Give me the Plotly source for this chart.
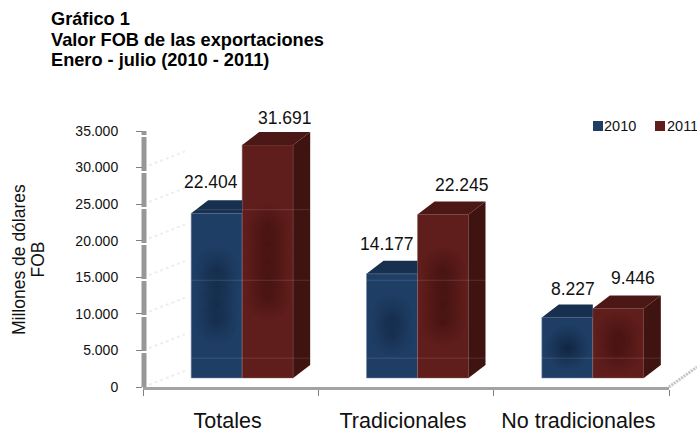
import plotly.graph_objects as go

categories = ["Totales", "Tradicionales", "No tradicionales"]
series_names = ["2010", "2011"]
values_2010 = [22404, 14177, 8227]
values_2011 = [31691, 22245, 9446]
y_ticks = [0, 5000, 10000, 15000, 20000, 25000, 30000, 35000]
y_tick_labels = ["0", "5.000", "10.000", "15.000", "20.000", "25.000", "30.000", "35.000"]
front_lines = [2700, 13300, 22900]

FONT = "Liberation Sans"
W, H = 697, 430
L, R, T, B = 143, 669, 131, 387
PW, PH = R - L, B - T
CAT = PW / 3                      # px per category
YS = 247 / 33605                  # px per unit on front plane
FRONT_BASE = 9                    # px between floor and bar base
SHIFT = 11.5                      # px shift of bars right of category centre
DX, DY = 17, 13                   # px depth of the 3D boxes
BW = 51 / CAT

y2_low = -FRONT_BASE / YS
y2_high = y2_low + PH / YS
x2_range = [-0.5 - SHIFT / CAT, 2.5 - SHIFT / CAT]
dx_u, dy_u = DX / CAT, DY / YS

BLUE, BLUE_TOP, BLUE_DARK = "#1f3e66", "#17304f", "rgba(15,36,62,{a})"
RED, RED_TOP, RED_SIDE, RED_DARK = "#5f1d1b", "#4c1815", "#3e1310", "rgba(58,14,12,{a})"

fig = go.Figure()

# hidden carrier for the category axis
fig.add_trace(go.Scatter(x=categories, y=values_2010, xaxis="x", yaxis="y", mode="markers",
                         marker=dict(opacity=0), showlegend=False, hoverinfo="skip"))

idx = list(range(len(categories)))
fig.add_trace(go.Bar(x=[i - BW / 2 for i in idx], y=values_2010, width=BW, name=series_names[0], xaxis="x2", yaxis="y2",
                     marker=dict(color=BLUE, line=dict(color="rgba(120,140,170,0.55)", width=1)), showlegend=False))
fig.add_trace(go.Bar(x=[i + BW / 2 for i in idx], y=values_2011, width=BW, name=series_names[1], xaxis="x2", yaxis="y2",
                     marker=dict(color=RED, line=dict(color="rgba(150,100,100,0.45)", width=1)), showlegend=False))


def poly(xs, ys, color):
    fig.add_trace(go.Scatter(x=xs, y=ys, xaxis="x2", yaxis="y2", mode="lines", fill="toself", fillcolor=color,
                             line=dict(width=0), showlegend=False, hoverinfo="skip"))


for i, a, b in zip(idx, values_2010, values_2011):
    # blue top face, stops at the red bar
    poly([i - BW, i - BW + dx_u, i, i], [a, a + dy_u, a + dy_u, a], BLUE_TOP)
    # red top and side faces
    poly([i, i + dx_u, i + BW + dx_u, i + BW], [b, b + dy_u, b + dy_u, b], RED_TOP)
    poly([i + BW, i + BW + dx_u, i + BW + dx_u, i + BW], [0, dy_u, b + dy_u, b], RED_SIDE)


def glow(xc, value, dark):
    # soft dark patch in the middle of a front face, longer on taller bars
    h = value * YS
    n = max(1, round(h * 0.4 / 18))
    ys = [value / 2 + (k - (n - 1) / 2) * 18 / YS for k in range(n)]
    fig.add_trace(go.Scatter(x=[xc] * n, y=ys, xaxis="x2", yaxis="y2", mode="markers", showlegend=False, hoverinfo="skip",
                             marker=dict(symbol="square", size=46, color=dark.format(a=0), line=dict(width=0),
                                         gradient=dict(type="radial", color=dark.format(a=0.55 if n > 1 else 0.9)))))


for i, a, b in zip(idx, values_2010, values_2011):
    glow(i - BW / 2, a, BLUE_DARK)
    glow(i + BW / 2, b, RED_DARK)

# faint wall lines running across the boxes
for level in front_lines:
    xs, ys = [], []
    for i, b in zip(idx, values_2011):
        if level < b:
            xs += [i - BW, i + BW + dx_u, None]
            ys += [level, level, None]
    fig.add_trace(go.Scatter(x=xs, y=ys, xaxis="x2", yaxis="y2", mode="lines", showlegend=False, hoverinfo="skip",
                             line=dict(color="rgba(255,255,255,0.13)", width=1)))

# data labels: (x px offset from bar centre, y px offset above bar top)
label_shift = [[(-6, 31), (17, 27)], [(-5, 30), (19, 30)], [(6, 29), (15, 31)]]
for i, a, b in zip(idx, values_2010, values_2011):
    for k, v in enumerate((a, b)):
        sx, sy = label_shift[i][k]
        fig.add_annotation(x=i + (k - 0.5) * BW, y=v, xref="x2", yref="y2", text=f"{v:,}".replace(",", "."),
                           showarrow=False, xshift=sx, yshift=sy, xanchor="center", yanchor="middle",
                           font=dict(family=FONT, size=17.5, color="#111111"))

shapes = []
# left wall
shapes.append(dict(type="line", xref="paper", yref="paper", x0=1 / PW, x1=1 / PW, y0=0, y1=1,
                   line=dict(color="#979797", width=5, dash="34px,2px"), layer="below"))
# faint dotted wall gridlines
for t in y_ticks[:-1]:
    shapes.append(dict(type="line", xref="paper", yref="y", x0=6 / PW, x1=42 / PW, y0=t + 300, y1=t + 300 + 14 / (PH / 35000),
                       line=dict(color="#eeeeee", width=2, dash="dot"), layer="below"))
# floor edge rising to the right
shapes.append(dict(type="line", xref="paper", yref="paper", x0=1.0, x1=1 + 28 / PW, y0=0.0, y1=20 / PH,
                   line=dict(color="#c4c4c4", width=3, dash="2px,1px"), layer="below"))

# legend
for color, sx, tx, name in [(BLUE, 593, 604, series_names[0]), (RED, 655, 667, series_names[1])]:
    shapes.append(dict(type="rect", xref="paper", yref="paper", x0=(sx - L) / PW, x1=(sx + 10 - L) / PW,
                       y0=(B - 131) / PH, y1=(B - 121) / PH, fillcolor=color, line=dict(width=0)))
    fig.add_annotation(xref="paper", yref="paper", x=(tx - L) / PW, y=(B - 126) / PH, text=name, showarrow=False,
                       xanchor="left", yanchor="middle", xshift=-2, font=dict(family=FONT, size=14.5, color="#111111"))

# title
for text, yc in [("Gráfico 1", 19), ("Valor FOB de las exportaciones", 40), ("Enero - julio (2010 - 2011)", 60)]:
    fig.add_annotation(xref="paper", yref="paper", x=(51 - L) / PW, y=(B - yc) / PH, text=f"<b>{text}</b>", showarrow=False,
                       xanchor="left", yanchor="middle", xshift=-2, font=dict(family=FONT, size=18.2, color="#000000"))

# axis title, two tight rotated lines
for text, xc in [("Millones de dólares", 19), ("FOB", 37.5)]:
    fig.add_annotation(xref="paper", yref="paper", x=(xc - L) / PW, y=(B - 260) / PH, text=text, showarrow=False,
                       textangle=-90, xanchor="center", yanchor="middle", font=dict(family=FONT, size=17.5, color="#111111"))

fig.update_layout(
    width=W, height=H, autosize=False, showlegend=False,
    margin=dict(l=L, r=W - R, t=T, b=H - B, pad=0, autoexpand=False),
    paper_bgcolor="white", plot_bgcolor="white", barmode="overlay", shapes=shapes,
    xaxis=dict(type="category", categoryorder="array", categoryarray=categories, range=[-0.5, 2.5], automargin=False,
               tickson="boundaries", ticks="outside", ticklen=6, tickcolor="#808080", tickwidth=1,
               showline=True, linecolor="#a3a3a3", linewidth=3, showgrid=False, zeroline=False,
               ticklabelstandoff=12, ticklabelshift=-3,
               tickfont=dict(family=FONT, size=21.5, color="#111111")),
    yaxis=dict(range=[0, 35000], tickvals=y_ticks, ticktext=y_tick_labels, ticks="outside", ticklen=6, tickcolor="#808080",
               showline=False, showgrid=False, zeroline=False, ticklabelstandoff=15, automargin=False,
               tickfont=dict(family=FONT, size=14, color="#111111")),
    xaxis2=dict(type="linear", overlaying="x", range=x2_range, visible=False, anchor="y2", automargin=False),
    yaxis2=dict(overlaying="y", range=[y2_low, y2_high], visible=False, anchor="x2", automargin=False),
)

fig.write_html("out.html", post_script="document.body.style.margin='0';", config={"displayModeBar": False})
